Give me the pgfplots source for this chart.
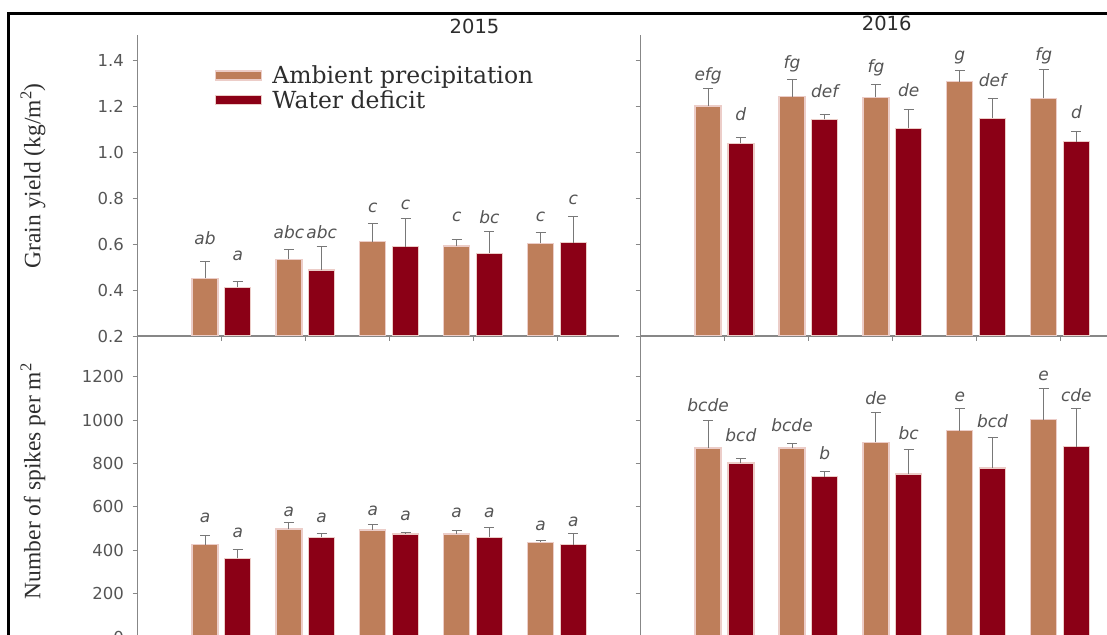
\documentclass[border=0pt]{standalone}
\usepackage{fontspec}
\setmainfont{Liberation Serif}
\setsansfont{DejaVu Sans}
\newfontfamily\legfont{DejaVu Serif}
\usepackage{pgfplots}
\usepackage{pgfplotstable}
\pgfplotsset{compat=1.18}

\definecolor{ambient}{RGB}{190,126,90}
\definecolor{deficit}{RGB}{139,0,22}
\definecolor{barrim}{RGB}{236,205,200}
\definecolor{axgray}{RGB}{135,135,135}
\definecolor{errgray}{RGB}{120,120,120}
\definecolor{lblgray}{RGB}{85,85,85}
\definecolor{txtdark}{RGB}{45,45,45}

% columns: group, ambient mean, ambient SE, deficit mean, deficit SE,
% letter heights (ambient, deficit), letters (ambient, deficit)
\pgfplotstableread{
x amb   ea    def   ed    la    ld    ta  td
1 0.451 0.075 0.412 0.027 0.596 0.530 ab  a
2 0.533 0.045 0.487 0.104 0.626 0.626 abc abc
3 0.610 0.080 0.588 0.122 0.739 0.748 c   c
4 0.591 0.029 0.560 0.095 0.700 0.691 c   bc
5 0.603 0.048 0.606 0.113 0.700 0.770 c   c
}\yieldA
\pgfplotstableread{
x amb   ea    def   ed    la    ld    ta  td
1 1.200 0.077 1.038 0.024 1.313 1.139 efg d
2 1.240 0.076 1.142 0.022 1.365 1.239 fg  def
3 1.238 0.056 1.103 0.083 1.348 1.243 fg  de
4 1.306 0.047 1.147 0.086 1.400 1.283 g   def
5 1.233 0.127 1.045 0.043 1.400 1.148 fg  d
}\yieldB
\pgfplotstableread{
x amb  ea  def ed  la   ld   ta td
1 425  43  363 39  526  457  a  a
2 498  30  460 18  554  526  a  a
3 494  23  475 8   558  535  a  a
4 475  14  460 45  549  549  a  a
5 437  6   425 53  489  508  a  a
}\spikeA
\pgfplotstableread{
x amb  ea  def ed  la   ld   ta   td
1 871  126 802 23  1038 900  bcde bcd
2 871  20  740 25  946  817  bcde b
3 897  138 752 111 1071 909  de   bc
4 951  104 779 143 1085 965  e    bcd
5 1002 143 878 177 1181 1085 e    cde
}\spikeB

\pgfplotsset{
  panel/.style={
    scale only axis, width=481.5pt, height=301pt,
    xmin=0, xmax=5.74,
    axis x line=bottom, axis y line=left,
    axis line style={-, draw=axgray, line width=1.1pt},
    xtick={1,2,3,4,5}, xticklabels={},
    tick align=outside, major tick length=5pt,
    major tick style={draw=axgray, line width=0.8pt},
    tick label style={font=\sffamily\fontsize{16.5}{18}\selectfont, text=lblgray},
    yticklabel style={xshift=-5pt},
    /pgf/number format/assume math mode=true,
    ylabel style={font=\fontsize{23.5}{26}\selectfont, text=txtdark, anchor=center},
    title style={font=\sffamily\fontsize{19.5}{22}\selectfont, text=txtdark, anchor=center},
  },
  errs/.style={
    error bars/y dir=plus, error bars/y explicit,
    error bars/error bar style={draw=errgray, line width=1pt},
    error bars/error mark options={rotate=90, mark size=5pt, draw=errgray, line width=1pt},
  },
  letters/.style={draw=none, forget plot, nodes near coords,
    point meta=explicit symbolic,
    nodes near coords style={anchor=base, inner sep=0pt,
      font=\sffamily\itshape\fontsize{17}{19}\selectfont, text=lblgray}},
}

% one panel: ambient bars left of each group centre, deficit bars right of it
\newcommand{\bars}[1]{%
  \addplot[ybar, bar width=0.31, bar shift=0pt, fill=ambient, draw=barrim,
    line width=1.3pt, errs,
    legend image code/.code={\draw[fill=ambient, draw=barrim, line width=1.2pt]
      (0pt,-4.5pt) rectangle (46pt,4.5pt);}]
    table[x expr=\thisrow{x}-0.195, y=amb, y error=ea] {#1};
  \addplot[ybar, bar width=0.31, bar shift=0pt, fill=deficit, draw=barrim,
    line width=1.3pt, errs,
    legend image code/.code={\draw[fill=deficit, draw=barrim, line width=1.2pt]
      (0pt,-4.5pt) rectangle (46pt,4.5pt);}]
    table[x expr=\thisrow{x}+0.195, y=def, y error=ed] {#1};
  \addplot[letters] table[x expr=\thisrow{x}-0.195, y=la, meta=ta] {#1};
  \addplot[letters] table[x expr=\thisrow{x}+0.195, y=ld, meta=td] {#1};
}

\begin{document}
\begin{tikzpicture}
\useasboundingbox (0pt,0pt) rectangle (1107pt,634pt);
\begin{scope}
\clip (0pt,0pt) rectangle (1107pt,634pt);

% grain yield, 2015
\begin{axis}[panel, at={(137.5pt,298pt)}, anchor=south west,
  ymin=0.2, ymax=1.509, ytick={0.2,0.4,0.6,0.8,1.0,1.2,1.4},
  yticklabel style={/pgf/number format/.cd, fixed, fixed zerofill, precision=1},
  ylabel={Grain yield (kg/m\textsuperscript{2})},
  ylabel style={at={(axis description cs:-0.217,0.532)}},
  title={2015}, title style={at={(axis description cs:0.700,1.01)}},
  legend style={at={(axis description cs:0.161,0.905)}, anchor=north west,
    draw=none, fill=none, inner sep=0pt, row sep=1.5pt,
    /tikz/every odd column/.append style={column sep=8pt},
    font=\legfont\fontsize{23.5}{25}\selectfont, text=txtdark},
  legend cell align=left]
\bars{\yieldA}
\legend{Ambient precipitation, Water deficit}
\end{axis}

% grain yield, 2016
\begin{axis}[panel, at={(640.6pt,298pt)}, anchor=south west,
  ymin=0.2, ymax=1.509, ytick={0.2,0.4,0.6,0.8,1.0,1.2,1.4}, yticklabels={},
  title={2016}, title style={at={(axis description cs:0.511,1.017)}}]
\bars{\yieldB}
\end{axis}

% spikes, 2015
\begin{axis}[panel, at={(137.5pt,-3pt)}, anchor=south west,
  ymin=0, ymax=1388, ytick={0,200,400,600,800,1000,1200},
  yticklabel style={/pgf/number format/1000 sep={}},
  ylabel={Number of spikes per m\textsuperscript{2}},
  ylabel style={at={(axis description cs:-0.217,0.518)}}]
\bars{\spikeA}
\end{axis}

% spikes, 2016
\begin{axis}[panel, at={(640.6pt,-3pt)}, anchor=south west,
  ymin=0, ymax=1388, ytick={0,200,400,600,800,1000,1200}, yticklabels={}]
\bars{\spikeB}
\end{axis}

\draw[black, line width=2.6pt, line join=miter] (8.6pt,-5pt) -- (8.6pt,620.3pt) -- (1115pt,620.3pt);
\end{scope}
\end{tikzpicture}
\end{document}
